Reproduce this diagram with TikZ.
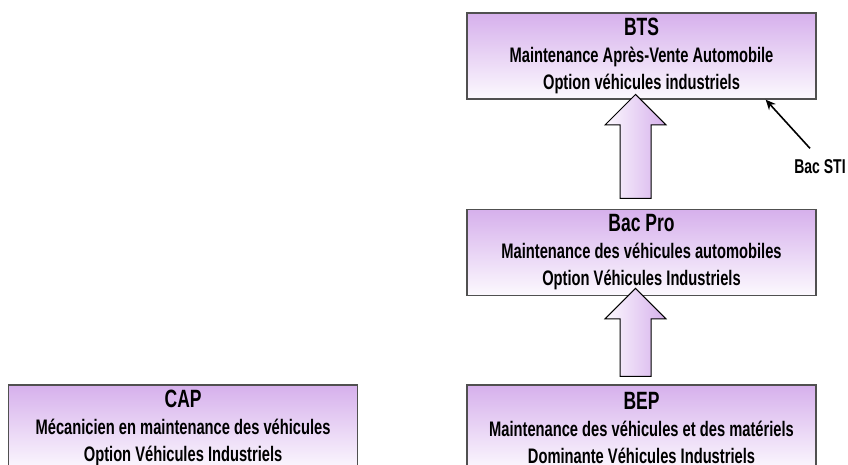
\documentclass[tikz,border=0pt]{standalone}
\usepackage{fontspec}
\setmainfont{Liberation Sans}[FakeStretch=0.7]
\usetikzlibrary{positioning, calc, shapes.arrows, arrows.meta}
\definecolor{lilac}{RGB}{214,176,236}
\definecolor{lilacpale}{RGB}{252,249,254}
\definecolor{boxline}{RGB}{80,80,80}
\tikzstyle{level} = [draw=boxline, line width=1.4pt, rectangle,
   top color=lilac, bottom color=lilacpale,
   minimum width=349pt, minimum height=86pt, inner sep=0pt, align=center,
   font=\bfseries\fontsize{21}{27}\selectfont]
\tikzstyle{uparrow} = [draw=black, line width=1pt, single arrow,
   single arrow head extend=15pt, single arrow head indent=0pt,
   minimum height=104pt, inner xsep=0pt, inner ysep=15pt,
   rotate=90, left color=lilacpale, right color=lilac]
\newcommand{\head}[1]{{\fontsize{25}{27}\selectfont #1}}

\begin{document}
\begin{tikzpicture}[x=1pt, y=-1pt]
  \useasboundingbox (0,0) rectangle (848,465);
  \clip (0,0) rectangle (848,465);

  \node[level] (bts) at (641.5,56)
    {\head{BTS}\\Maintenance Après-Vente Automobile\\Option véhicules industriels};
  \node[level, below=109pt of bts] (bacpro)
    {\head{Bac Pro}\\Maintenance des véhicules automobiles\\Option Véhicules Industriels};
  \node[level, below=88pt of bacpro] (bep)
    {\head{BEP}\\Maintenance des véhicules et des matériels\\Dominante Véhicules Industriels};
  \node[level, left=108pt of bep] (cap)
    {\head{CAP}\\Mécanicien en maintenance des véhicules\\Option Véhicules Industriels};

  % block arrows between the levels
  \node[uparrow] (up1) at ($(bacpro.north)!0.5!(bts.south)+(-6,0)$) {};
  \node[uparrow, minimum height=88pt] (up2) at ($(bep.north)!0.5!(bacpro.south)+(-6,0)$) {};

  % side entry
  \node[font=\bfseries\fontsize{20}{20}\selectfont] (sti) at (820,167) {Bac STI};
  \draw[line width=1.6pt, -{Stealth[length=10pt, width=9pt]}]
    ([shift={(-10pt,8pt)}]sti.north) -- ([xshift=-51pt]bts.south east);
\end{tikzpicture}
\end{document}
